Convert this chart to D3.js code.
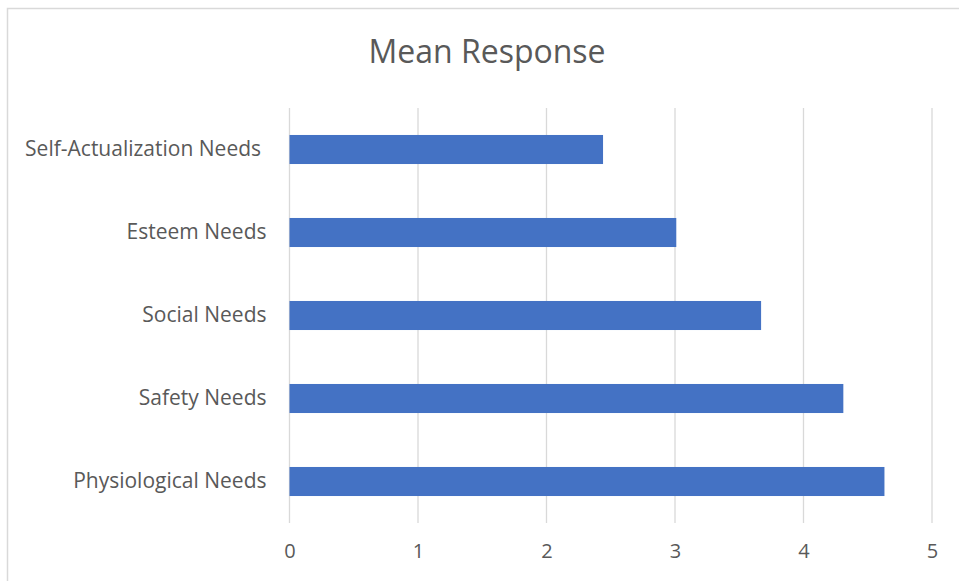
<!DOCTYPE html>
<html>
<head>
<meta charset="utf-8">
<script src="https://cdn.jsdelivr.net/npm/d3@7"></script>
<style>
  body { margin: 0; background: #fff; }
  svg text { font-family: "Open Sans", sans-serif; fill: #595959; white-space: pre; }
</style>
</head>
<body>
<div id="chart"></div>
<script>
// data
var categories = ["Self-Actualization Needs ", "Esteem Needs", "Social Needs", "Safety Needs", "Physiological Needs"];
var meanValues = [2.44, 3.01, 3.67, 4.31, 4.63];
var xTicks = [0, 1, 2, 3, 4, 5];
var chartTitle = "Mean Response";

var width = 959, height = 581;
var margin = {top: 108, right: 27, bottom: 58, left: 289.5};

var svg = d3.select("#chart").append("svg")
    .attr("width", width)
    .attr("height", height);

// chart frame (right/bottom edges run off the picture)
svg.append("rect")
    .attr("x", 7.5)
    .attr("y", 8.5)
    .attr("width", 965)
    .attr("height", 600)
    .attr("fill", "#fff")
    .attr("stroke", "#d9d9d9")
    .attr("stroke-width", 1.5);

var x = d3.scaleLinear()
    .domain([0, 5])
    .range([margin.left, width - margin.right]);

var y = d3.scaleBand()
    .domain(categories)
    .range([margin.top, height - margin.bottom])
    .paddingInner(0.65)
    .paddingOuter(0.325);

// gridlines
svg.append("g")
    .attr("class", "grid")
  .selectAll("line")
  .data(xTicks)
  .enter().append("line")
    .attr("x1", function(d) { return x(d); })
    .attr("x2", function(d) { return x(d); })
    .attr("y1", margin.top)
    .attr("y2", height - margin.bottom)
    .attr("stroke", "#d9d9d9")
    .attr("stroke-width", 1.3);

// bars
svg.append("g")
  .selectAll("rect")
  .data(meanValues)
  .enter().append("rect")
    .attr("x", x(0))
    .attr("y", function(d, i) { return y(categories[i]); })
    .attr("width", function(d) { return x(d) - x(0); })
    .attr("height", y.bandwidth())
    .attr("fill", "#4472c4");

// x axis labels
var xAxis = svg.append("g")
    .attr("transform", "translate(0," + (height - margin.bottom) + ")")
    .call(d3.axisBottom(x).tickValues(xTicks).tickSize(0).tickPadding(21).tickFormat(d3.format("d")));
xAxis.select(".domain").remove();
xAxis.selectAll("text")
    .attr("font-size", 20)
    .style("font-family", "'Open Sans', sans-serif")
    .attr("fill", "#595959");

// y axis labels
var yAxis = svg.append("g")
    .attr("transform", "translate(" + margin.left + ",0)")
    .call(d3.axisLeft(y).tickSize(0).tickPadding(23));
yAxis.select(".domain").remove();
yAxis.selectAll("text")
    .attr("font-size", 21)
    .style("font-family", "'Open Sans', sans-serif")
    .attr("fill", "#595959");

// title
svg.append("text")
    .attr("x", 487)
    .attr("y", 63)
    .attr("text-anchor", "middle")
    .attr("font-size", 32)
    .text(chartTitle);
</script>
</body>
</html>
